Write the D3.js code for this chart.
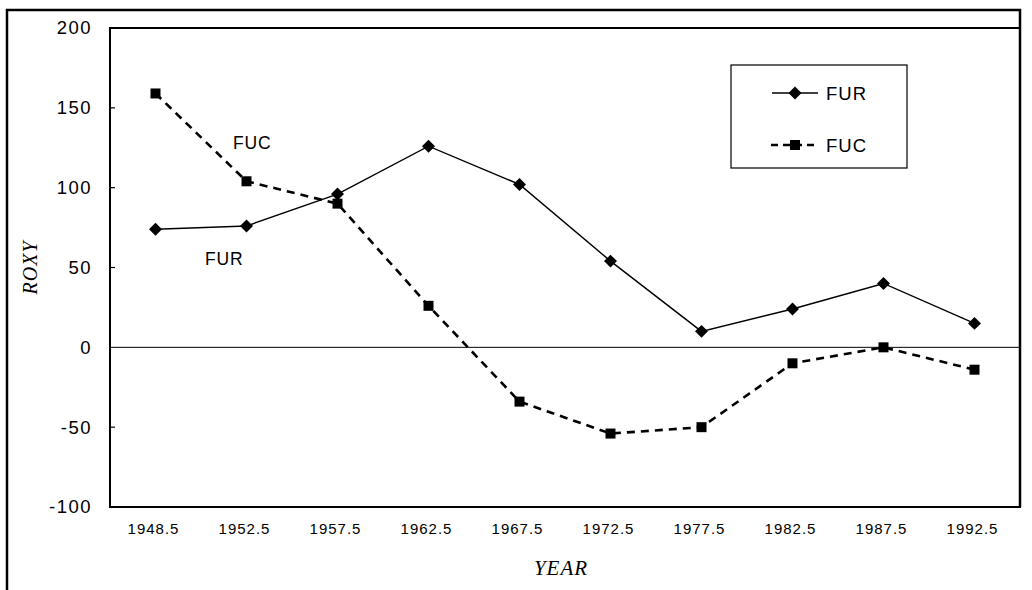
<!DOCTYPE html>
<html>
<head>
<meta charset="utf-8">
<script src="https://cdn.jsdelivr.net/npm/d3@7"></script>
<style>
  html, body { margin: 0; padding: 0; background: #fff; }
  svg { display: block; }
  text { font-family: "Liberation Sans", Arial, sans-serif; fill: #000; }
</style>
</head>
<body>
<svg id="chart" width="1032" height="590"></svg>
<script>
const categories = ["1948.5","1952.5","1957.5","1962.5","1967.5","1972.5","1977.5","1982.5","1987.5","1992.5"];
const furValues = [74, 76, 96, 126, 102, 54, 10, 24, 40, 15];
const fucValues = [159, 104, 90, 26, -34, -54, -50, -10, 0, -14];
const yTicks = [200, 150, 100, 50, 0, -50, -100];
const seriesNames = ["FUR", "FUC"];

const svg = d3.select("#chart");
const plot = { left: 110, top: 28, right: 1020, bottom: 507 };

const x = d3.scaleBand().domain(categories).range([plot.left, plot.right]).padding(0);
const cx = d => x(d) + x.bandwidth() / 2;
const y = d3.scaleLinear().domain([-100, 200]).range([plot.bottom, plot.top]);

// outer frame
svg.append("path")
  .attr("d", `M7,590 L7,10 L1020,10 L1020,${plot.bottom}`)
  .attr("fill", "none").attr("stroke", "#000").attr("stroke-width", 2.5);

// plot box
svg.append("rect")
  .attr("x", plot.left).attr("y", plot.top)
  .attr("width", plot.right - plot.left).attr("height", plot.bottom - plot.top)
  .attr("fill", "none").attr("stroke", "#000").attr("stroke-width", 2);

// y axis
const yAxis = d3.axisLeft(y).tickValues(yTicks).tickSize(0).tickPadding(18).tickFormat(d => String(d));
const yg = svg.append("g").attr("transform", `translate(${plot.left},0)`).call(yAxis);
yg.select(".domain").remove();
yg.selectAll("text").style("font-size", "18.5px").style("letter-spacing", "1.5px")
  .attr("font-family", "Liberation Sans, Arial, sans-serif");
// inward tick marks
svg.append("g").selectAll("line").data(yTicks.filter(t => t !== 200 && t !== -100 && t !== 0))
  .join("line")
  .attr("x1", plot.left).attr("x2", plot.left + 5)
  .attr("y1", d => y(d)).attr("y2", d => y(d))
  .attr("stroke", "#000").attr("stroke-width", 1.2);

// zero line
svg.append("line")
  .attr("x1", plot.left).attr("x2", plot.right)
  .attr("y1", y(0)).attr("y2", y(0))
  .attr("stroke", "#000").attr("stroke-width", 1);

// x axis labels
const xAxis = d3.axisBottom(x).tickSize(0).tickPadding(16);
const xg = svg.append("g").attr("transform", `translate(-2,${plot.bottom})`).call(xAxis);
xg.select(".domain").remove();
xg.selectAll("text").style("font-size", "15px").style("letter-spacing", "1px")
  .attr("font-family", "Liberation Sans, Arial, sans-serif");

// axis titles
svg.append("text").attr("x", 561).attr("y", 575).attr("text-anchor", "middle")
  .style("font-family", "'Liberation Serif', 'DejaVu Serif', serif").style("font-style", "italic")
  .style("font-size", "21px").style("letter-spacing", "1px")
  .text("YEAR");
svg.append("text").attr("transform", `translate(37,${y(50)}) rotate(-90)`).attr("text-anchor", "middle")
  .style("font-family", "'Liberation Serif', 'DejaVu Serif', serif").style("font-style", "italic")
  .style("font-size", "20px").style("letter-spacing", "1px")
  .text("ROXY");

// lines
const line = d3.line().x((d, i) => cx(categories[i])).y(d => y(d));
svg.append("path").datum(furValues).attr("d", line)
  .attr("fill", "none").attr("stroke", "#000").attr("stroke-width", 1.4);
svg.append("path").datum(fucValues).attr("d", line)
  .attr("fill", "none").attr("stroke", "#000").attr("stroke-width", 2.6).attr("stroke-dasharray", "8,6");

// markers
svg.append("g").selectAll("path").data(furValues).join("path")
  .attr("d", d3.symbol().type(d3.symbolSquare).size(84))
  .attr("transform", (d, i) => `translate(${cx(categories[i])},${y(d)}) rotate(45)`)
  .attr("fill", "#000");
svg.append("g").selectAll("rect").data(fucValues).join("rect")
  .attr("x", (d, i) => cx(categories[i]) - 5).attr("y", d => y(d) - 5)
  .attr("width", 10).attr("height", 10).attr("fill", "#000");

// inline labels
svg.append("text").attr("x", 233).attr("y", 149).style("font-size", "17.5px").style("letter-spacing", "0.8px").text("FUC");
svg.append("text").attr("x", 205).attr("y", 265).style("font-size", "17.5px").style("letter-spacing", "0.8px").text("FUR");

// legend
const lg = svg.append("g");
lg.append("rect").attr("x", 731).attr("y", 65).attr("width", 176).attr("height", 103)
  .attr("fill", "#fff").attr("stroke", "#000").attr("stroke-width", 1.2);
const legendY = [93, 145];
lg.append("line").attr("x1", 772).attr("x2", 818).attr("y1", legendY[0]).attr("y2", legendY[0])
  .attr("stroke", "#000").attr("stroke-width", 1.4);
lg.append("path").attr("d", d3.symbol().type(d3.symbolSquare).size(84))
  .attr("transform", `translate(795,${legendY[0]}) rotate(45)`).attr("fill", "#000");
lg.append("line").attr("x1", 771).attr("x2", 819).attr("y1", legendY[1]).attr("y2", legendY[1])
  .attr("stroke", "#000").attr("stroke-width", 2.6).attr("stroke-dasharray", "7,5");
lg.append("rect").attr("x", 790).attr("y", legendY[1] - 5).attr("width", 10).attr("height", 10).attr("fill", "#000");
lg.selectAll("text.leg").data(seriesNames).join("text").attr("class", "leg")
  .attr("x", 826).attr("y", (d, i) => legendY[i] + 7).style("font-size", "18.5px").style("letter-spacing", "1px").text(d => d);
</script>
</body>
</html>
